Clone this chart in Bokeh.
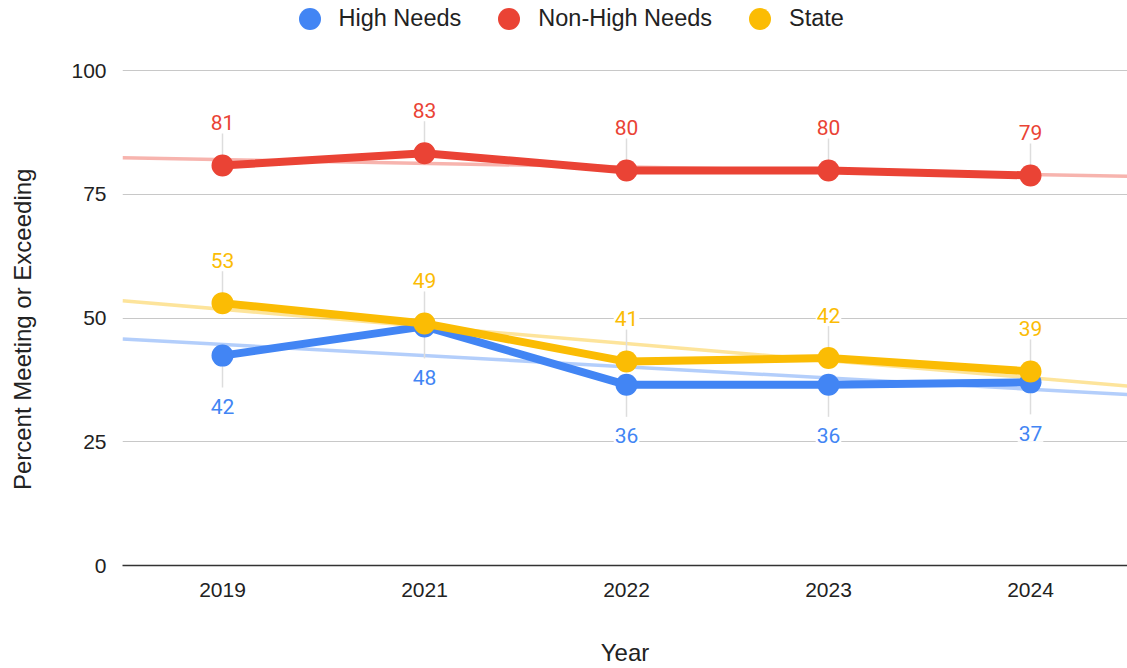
import numpy as np
from bokeh.plotting import figure
from bokeh.layouts import column
from bokeh.models import Range1d, FixedTicker, Legend, LegendItem, ColumnDataSource
from bokeh.core.properties import value
from bokeh.embed import file_html
from bokeh.resources import INLINE

# ---- data ----
years = ["2019", "2021", "2022", "2023", "2024"]
high_needs = [42.4, 48.3, 36.5, 36.5, 37.0]
non_high_needs = [80.8, 83.3, 79.8, 79.8, 78.8]
state = [53.0, 48.9, 41.2, 41.9, 39.2]
y_ticks = [0, 25, 50, 75, 100]

series = [
    ("High Needs", high_needs, "#4285F4", "below"),
    ("Non-High Needs", non_high_needs, "#EA4335", "above"),
    ("State", state, "#FBBC04", "above"),
]

# ---- layout ----
W = 1127
LEG_H = 40
H = 668 - LEG_H
LEFT, TOP, BOTTOM = 122, 26, 103
frame_h = H - TOP - BOTTOM
PX_PER_UNIT = 4.95
X0 = -100 / 202
X1 = (W - LEFT - 100) / 202
Y0 = 0
Y1 = frame_h / PX_PER_UNIT
px = 1 / PX_PER_UNIT  # data units per pixel

p = figure(width=W, height=H, output_backend="svg", toolbar_location=None,
           x_range=Range1d(X0, X1), y_range=Range1d(Y0, Y1),
           min_border_left=LEFT, min_border_right=0, min_border_top=TOP,
           min_border_bottom=BOTTOM)
p.outline_line_color = None
p.background_fill_color = "white"
p.border_fill_color = "white"

xs = list(range(len(years)))

# trendlines
for name, vals, color, pos in series:
    k, b = np.polyfit(xs, vals, 1)
    p.line([X0, X1], [k * X0 + b, k * X1 + b], line_color=color, line_alpha=0.4,
           line_width=3.5)

# stems
STEM = 32 * px
for name, vals, color, pos in series:
    sign = 1 if pos == "above" else -1
    p.segment(x0=xs, y0=vals, x1=xs, y1=[v + sign * STEM for v in vals],
              line_color="#dddddd", line_width=1.5)

for name, vals, color, pos in series:
    src = ColumnDataSource(dict(x=xs, y=vals))
    p.line("x", "y", source=src, line_color=color, line_width=8, line_join="round")
    p.scatter("x", "y", source=src, size=22, fill_color=color, line_color=color,
              line_width=0)

for name, vals, color, pos in series:
    src = ColumnDataSource(dict(x=xs, y=vals, t=[f"{v:.0f}" for v in vals]))
    p.text("x", "y", text="t", source=src, text_font=value("Roboto"),
           text_font_size="21px", text_color=color, text_align="center",
           text_baseline="middle", y_offset=(-43 if pos == "above" else 51),
           background_fill_color="white", padding=1)

# axes
p.xaxis.ticker = FixedTicker(ticks=xs)
p.xaxis.major_label_overrides = {i: y for i, y in enumerate(years)}
p.yaxis.ticker = FixedTicker(ticks=y_ticks)
p.xaxis.axis_label = "Year"
# trailing no-break spaces nudge the centred title slightly down, as in the original
p.yaxis.axis_label = "Percent Meeting or Exceeding" + "\u00a0" * 4
for ax in (p.xaxis, p.yaxis):
    ax.major_tick_line_color = None
    ax.minor_tick_line_color = None
    ax.major_tick_out = 0
    ax.major_tick_in = 0
    ax.major_label_text_font = "Liberation Sans"
    ax.major_label_text_font_size = "21px"
    ax.major_label_text_color = "#222222"
    ax.axis_label_text_font = "Liberation Sans"
    ax.axis_label_text_font_size = "24px"
    ax.axis_label_text_font_style = "normal"
    ax.axis_label_text_color = "#222222"
p.yaxis.axis_line_color = None
p.xaxis.axis_line_color = "#333333"
p.xaxis.axis_line_width = 1.5
p.xaxis.major_label_standoff = 17
p.xaxis.axis_label_standoff = 39
p.yaxis.major_label_standoff = 16
p.yaxis.axis_label_standoff = 32
p.xgrid.visible = False
p.ygrid.grid_line_color = "#c8c8c8"
p.ygrid.grid_line_width = 1

# ---- legend strip ----
lg = figure(width=W, height=LEG_H, output_backend="svg", toolbar_location=None,
            x_range=Range1d(0, 1), y_range=Range1d(0, 1),
            min_border_left=0, min_border_right=0, min_border_top=0,
            min_border_bottom=0)
lg.outline_line_color = None
lg.axis.visible = False
lg.grid.visible = False
lg.border_fill_color = "white"
lg.background_fill_color = "white"
items = []
for name, vals, color, pos in series:
    # off-range placeholder point: only its legend glyph is seen
    r = lg.scatter(x=[-5], y=[-5], size=22, fill_color=color, line_color=color,
                   line_width=0)
    items.append(LegendItem(label=name, renderers=[r]))
GLYPH = 55
legend = Legend(items=items, orientation="horizontal",
                location=(309 - LEFT - GLYPH / 2, LEG_H - 18 - GLYPH / 2),
                glyph_width=GLYPH, glyph_height=GLYPH, label_standoff=2, spacing=20,
                padding=0, margin=0, border_line_color=None,
                background_fill_alpha=0, label_text_font="Liberation Sans",
                label_text_font_size="23.5px", label_text_color="#222222")
lg.add_layout(legend)

layout = column(lg, p, spacing=0)
open("out.html", "w").write(file_html(layout, INLINE))
